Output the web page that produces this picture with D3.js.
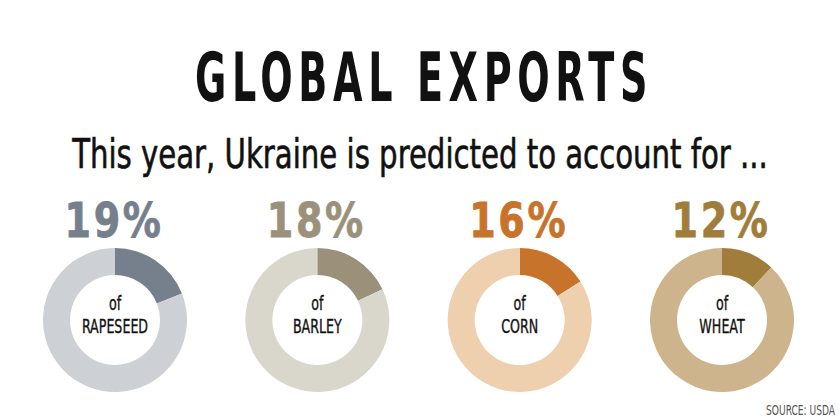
<!DOCTYPE html>
<html><head><meta charset="utf-8">
<script src="https://cdn.jsdelivr.net/npm/d3@7"></script>
<style>
html,body{margin:0;padding:0;background:#fff;}
text{font-family:"DejaVu Sans Condensed","DejaVu Sans","Roboto",sans-serif;}
</style></head>
<body><svg id="c" width="840" height="420"></svg>
<script>
const title = "GLOBAL EXPORTS";
const subtitle = "This year, Ukraine is predicted to account for ...";
const crops = ["RAPESEED", "BARLEY", "CORN", "WHEAT"];
const shares = [19, 18, 16, 12];
const darkColors = ["#76808d", "#9b917b", "#c8732b", "#a17d3b"];
const lightColors = ["#cdd0d5", "#d9d6cc", "#eecfae", "#cdb48c"];
const source = "SOURCE: USDA";

const W = 840, H = 420;
const svg = d3.select("#c");
svg.append("rect").attr("width", W).attr("height", H).attr("fill", "#fff");

// place a text at (x,y) and squeeze it horizontally to a target width
function fit(sel, x, y, width, anchor) {
  const w = sel.node().getComputedTextLength();
  sel.attr("x", 0).attr("y", 0).attr("text-anchor", anchor || "middle")
    .attr("transform", `translate(${x},${y}) scale(${width / w},1)`);
  return sel;
}

fit(svg.append("text").attr("font-size", 68).attr("font-weight", "bold")
  .attr("fill", "#111").attr("letter-spacing", 9).text(title), 424, 101, 458);

fit(svg.append("text").attr("font-size", 41).attr("fill", "#111")
  .attr("stroke", "#111").attr("stroke-width", 0.6).text(subtitle), 420, 168, 696);

const x = d3.scalePoint().domain(crops).range([115, 722]);
const cy = 320, rOuter = 72, rInner = 45;
const pie = d3.pie().sort(null).value(d => d);
const arc = d3.arc().innerRadius(rInner).outerRadius(rOuter);

crops.forEach((c, i) => {
  const g = svg.append("g").attr("transform", `translate(${x(c)},${cy})`);
  g.selectAll("path").data(pie([shares[i], 100 - shares[i]])).join("path")
    .attr("d", arc).attr("fill", (d, j) => j === 0 ? darkColors[i] : lightColors[i]);
  const t = g.append("text").attr("text-anchor", "middle")
    .attr("transform", "scale(0.74,1)")
    .attr("font-size", 19).attr("fill", "#111")
    .attr("stroke", "#111").attr("stroke-width", 0.35);
  t.append("tspan").attr("x", 0).attr("y", -10.5).text("of");
  t.append("tspan").attr("x", 0).attr("y", 12.5).text(c);
  fit(svg.append("text").attr("font-size", 48).attr("font-weight", "bold")
    .attr("fill", darkColors[i]).attr("stroke", darkColors[i]).attr("stroke-width", 0.8)
    .attr("letter-spacing", 3)
    .text(shares[i] + "%"), x(c) - 1, 237, 99);
});

fit(svg.append("text").attr("font-size", 14).attr("fill", "#555").text(source),
  835, 415, 69, "end");
</script></body></html>
